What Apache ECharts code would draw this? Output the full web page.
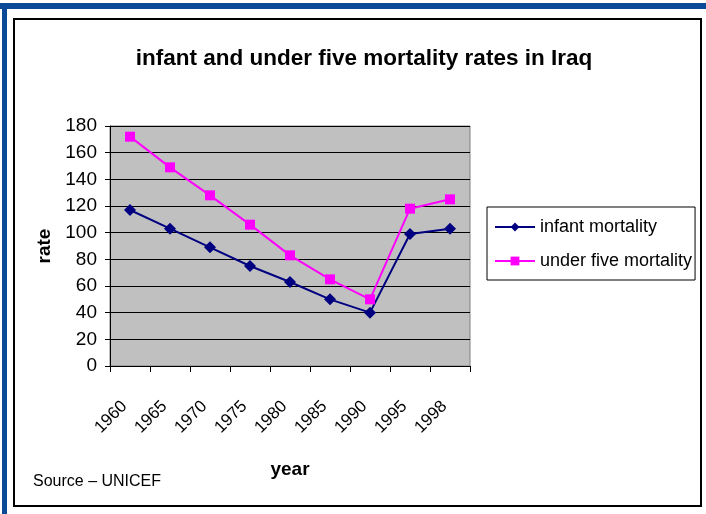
<!DOCTYPE html>
<html>
<head>
<meta charset="utf-8">
<title>infant and under five mortality rates in Iraq</title>
<script src="https://cdn.jsdelivr.net/npm/echarts@6/dist/echarts.min.js"></script>
<style>
  html, body { margin: 0; padding: 0; background: #fff; }
  #main { width: 706px; height: 514px; }
</style>
</head>
<body>
<div id="main"></div>
<script>
// values
var years = ['1960', '1965', '1970', '1975', '1980', '1985', '1990', '1995', '1998'];
var infantMortality = [117, 103, 89, 75, 63, 50, 40, 99, 103];
var underFiveMortality = [172, 149, 128, 106, 83, 65, 50, 118, 125];
var rateTicks = [0, 20, 40, 60, 80, 100, 120, 140, 160, 180];

var font = "'Liberation Sans', Arial, sans-serif";

var chart = echarts.init(document.getElementById('main'));

var option = {
  backgroundColor: '#fff',
  animation: false,
  title: {
    text: 'infant and under five mortality rates in Iraq',
    left: 359,
    top: 42,
    textAlign: 'center',
    textStyle: { fontFamily: font, fontSize: 22.5, fontWeight: 'bold', color: '#000' }
  },
  legend: {
    orient: 'vertical',
    left: 487,
    top: 207,
    padding: [11, 3, 10, 7],
    itemGap: 16,
    itemWidth: 40,
    itemHeight: 11,
    borderColor: '#000',
    borderWidth: 1,
    textStyle: { fontFamily: font, fontSize: 18, color: '#000' },
    data: ['infant mortality', 'under five mortality']
  },
  grid: {
    left: 110,
    right: 236,
    top: 126,
    bottom: 148,
    show: true,
    backgroundColor: '#C0C0C0',
    borderColor: '#808080',
    borderWidth: 1
  },
  xAxis: {
    type: 'category',
    data: years,
    boundaryGap: true,
    name: 'year',
    nameLocation: 'middle',
    nameGap: 94,
    nameTextStyle: { fontFamily: font, fontSize: 19, fontWeight: 'bold', color: '#000' },
    axisLine: { lineStyle: { color: '#000', width: 1 } },
    axisTick: { show: true, length: 6, lineStyle: { color: '#000' } },
    axisLabel: {
      rotate: 45,
      margin: 32,
      padding: [0, 8, 0, 0],
      fontFamily: font,
      fontSize: 17,
      color: '#000'
    },
    splitLine: { show: false }
  },
  yAxis: {
    type: 'value',
    min: rateTicks[0],
    max: rateTicks[rateTicks.length - 1],
    interval: 20,
    name: 'rate',
    nameLocation: 'middle',
    nameGap: 55,
    nameRotate: 90,
    nameTextStyle: { fontFamily: font, fontSize: 19, fontWeight: 'bold', color: '#000' },
    axisLine: { show: true, lineStyle: { color: '#000', width: 1 } },
    axisTick: { show: true, length: 5, lineStyle: { color: '#000' } },
    axisLabel: { margin: 13, fontFamily: font, fontSize: 19, color: '#000' },
    splitLine: { show: true, lineStyle: { color: '#000', width: 1 } }
  },
  series: [
    {
      name: 'infant mortality',
      type: 'line',
      data: infantMortality,
      symbol: 'diamond',
      symbolSize: 12,
      lineStyle: { color: '#000080', width: 2 },
      itemStyle: { color: '#000080' }
    },
    {
      name: 'under five mortality',
      type: 'line',
      data: underFiveMortality,
      symbol: 'rect',
      symbolSize: 10,
      lineStyle: { color: '#FF00FF', width: 2 },
      itemStyle: { color: '#FF00FF' }
    }
  ],
  graphic: [
    // blue frame
    { type: 'rect', shape: { x: 0, y: 3, width: 706, height: 6 }, style: { fill: '#0B4A96' }, silent: true },
    { type: 'rect', shape: { x: 2, y: 3, width: 5, height: 511 }, style: { fill: '#0B4A96' }, silent: true },
    // chart border
    { type: 'rect', shape: { x: 14, y: 19, width: 687, height: 487 }, style: { fill: 'none', stroke: '#000', lineWidth: 2 }, silent: true },
    {
      type: 'text',
      left: 33,
      top: 474,
      style: { text: 'Source – UNICEF', fontFamily: font, fontSize: 16, fill: '#000' }
    }
  ]
};

chart.setOption(option);
</script>
</body>
</html>
